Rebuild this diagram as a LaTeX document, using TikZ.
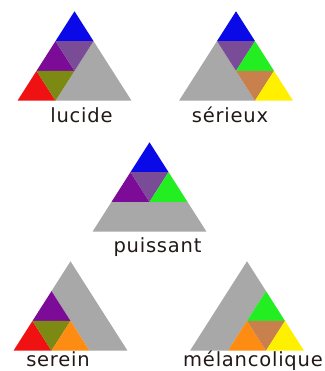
\documentclass[tikz,border=0pt]{standalone}
\usepackage{fontspec}
\setmainfont{DejaVu Sans}[LetterSpace=4]
\usepackage{tikz}
\definecolor{tblue}{HTML}{0A0AE8}
\definecolor{tpurple}{HTML}{7C0C98}
\definecolor{tmauve}{HTML}{7A4C98}
\definecolor{tgreen}{HTML}{22EE22}
\definecolor{tred}{HTML}{F01212}
\definecolor{tolive}{HTML}{7C8A14}
\definecolor{torange}{HTML}{FF8C12}
\definecolor{tbrown}{HTML}{C8804C}
\definecolor{tyellow}{HTML}{FFF000}
\definecolor{tgray}{HTML}{A8A8A8}
\definecolor{ink}{HTML}{221818}
% small triangles: position, row, colour
\newcommand{\uptri}[3]{\fill[#3] ({#1+#2/2},#2) -- ++(1,0) -- ++(-0.5,1) -- cycle;}
\newcommand{\dntri}[3]{\fill[#3] ({#1+#2/2+0.5},#2+1) -- ++(1,0) -- ++(-0.5,-1) -- cycle;}

\begin{document}
\begin{tikzpicture}[
  x=1pt, y=1pt,
  lbl/.style={anchor=base, text=ink, inner sep=0pt, font=\fontsize{19.5}{22}\selectfont},
  lattice/.style={x=38pt, y=29.8pt}
]
\useasboundingbox (0,0) rectangle (324,371);
% lucide
\begin{scope}[shift={(17.5pt,270.3pt)}, lattice]
\fill[tgray] (1,0) -- (3,0) -- (2,2) -- cycle;
\uptri{0}{2}{tblue}
\uptri{0}{1}{tpurple}
\dntri{0}{1}{tmauve}
\uptri{0}{0}{tred}
\dntri{0}{0}{tolive}
\end{scope}
% serieux
\begin{scope}[shift={(179pt,270.3pt)}, lattice]
\fill[tgray] (0,0) -- (2,0) -- (1,2) -- cycle;
\uptri{0}{2}{tblue}
\dntri{0}{1}{tmauve}
\uptri{1}{1}{tgreen}
\dntri{1}{0}{tbrown}
\uptri{2}{0}{tyellow}
\end{scope}
% puissant
\begin{scope}[shift={(92.5pt,139.3pt)}, lattice]
\fill[tgray] (0,0) -- (3,0) -- (2.5,1) -- (0.5,1) -- cycle;
\uptri{0}{2}{tblue}
\uptri{0}{1}{tpurple}
\dntri{0}{1}{tmauve}
\uptri{1}{1}{tgreen}
\end{scope}
% serein
\begin{scope}[shift={(13.5pt,20.3pt)}, lattice]
\fill[tgray] (1,2) -- (1.5,3) -- (3,0) -- (2,0) -- (1.5,1) -- cycle;
\uptri{0}{1}{tpurple}
\uptri{0}{0}{tred}
\dntri{0}{0}{tolive}
\uptri{1}{0}{torange}
\end{scope}
% melancolique
\begin{scope}[shift={(190pt,20.3pt)}, lattice]
\fill[tgray] (0,0) -- (1,0) -- (1.5,1) -- (2,2) -- (1.5,3) -- cycle;
\uptri{1}{1}{tgreen}
\uptri{1}{0}{torange}
\dntri{1}{0}{tbrown}
\uptri{2}{0}{tyellow}
\end{scope}
% labels
\node[lbl] (lucide) at (81.5,248) {lucide};
\node[lbl] (serieux) at (230,248) {sérieux};
\node[lbl] (puissant) at (157.5,118) {puissant};
\node[lbl] (serein) at (58,4.5) {serein};
\node[lbl] (melanco) at (253,5) {mélancolique};
\end{tikzpicture}
\end{document}
